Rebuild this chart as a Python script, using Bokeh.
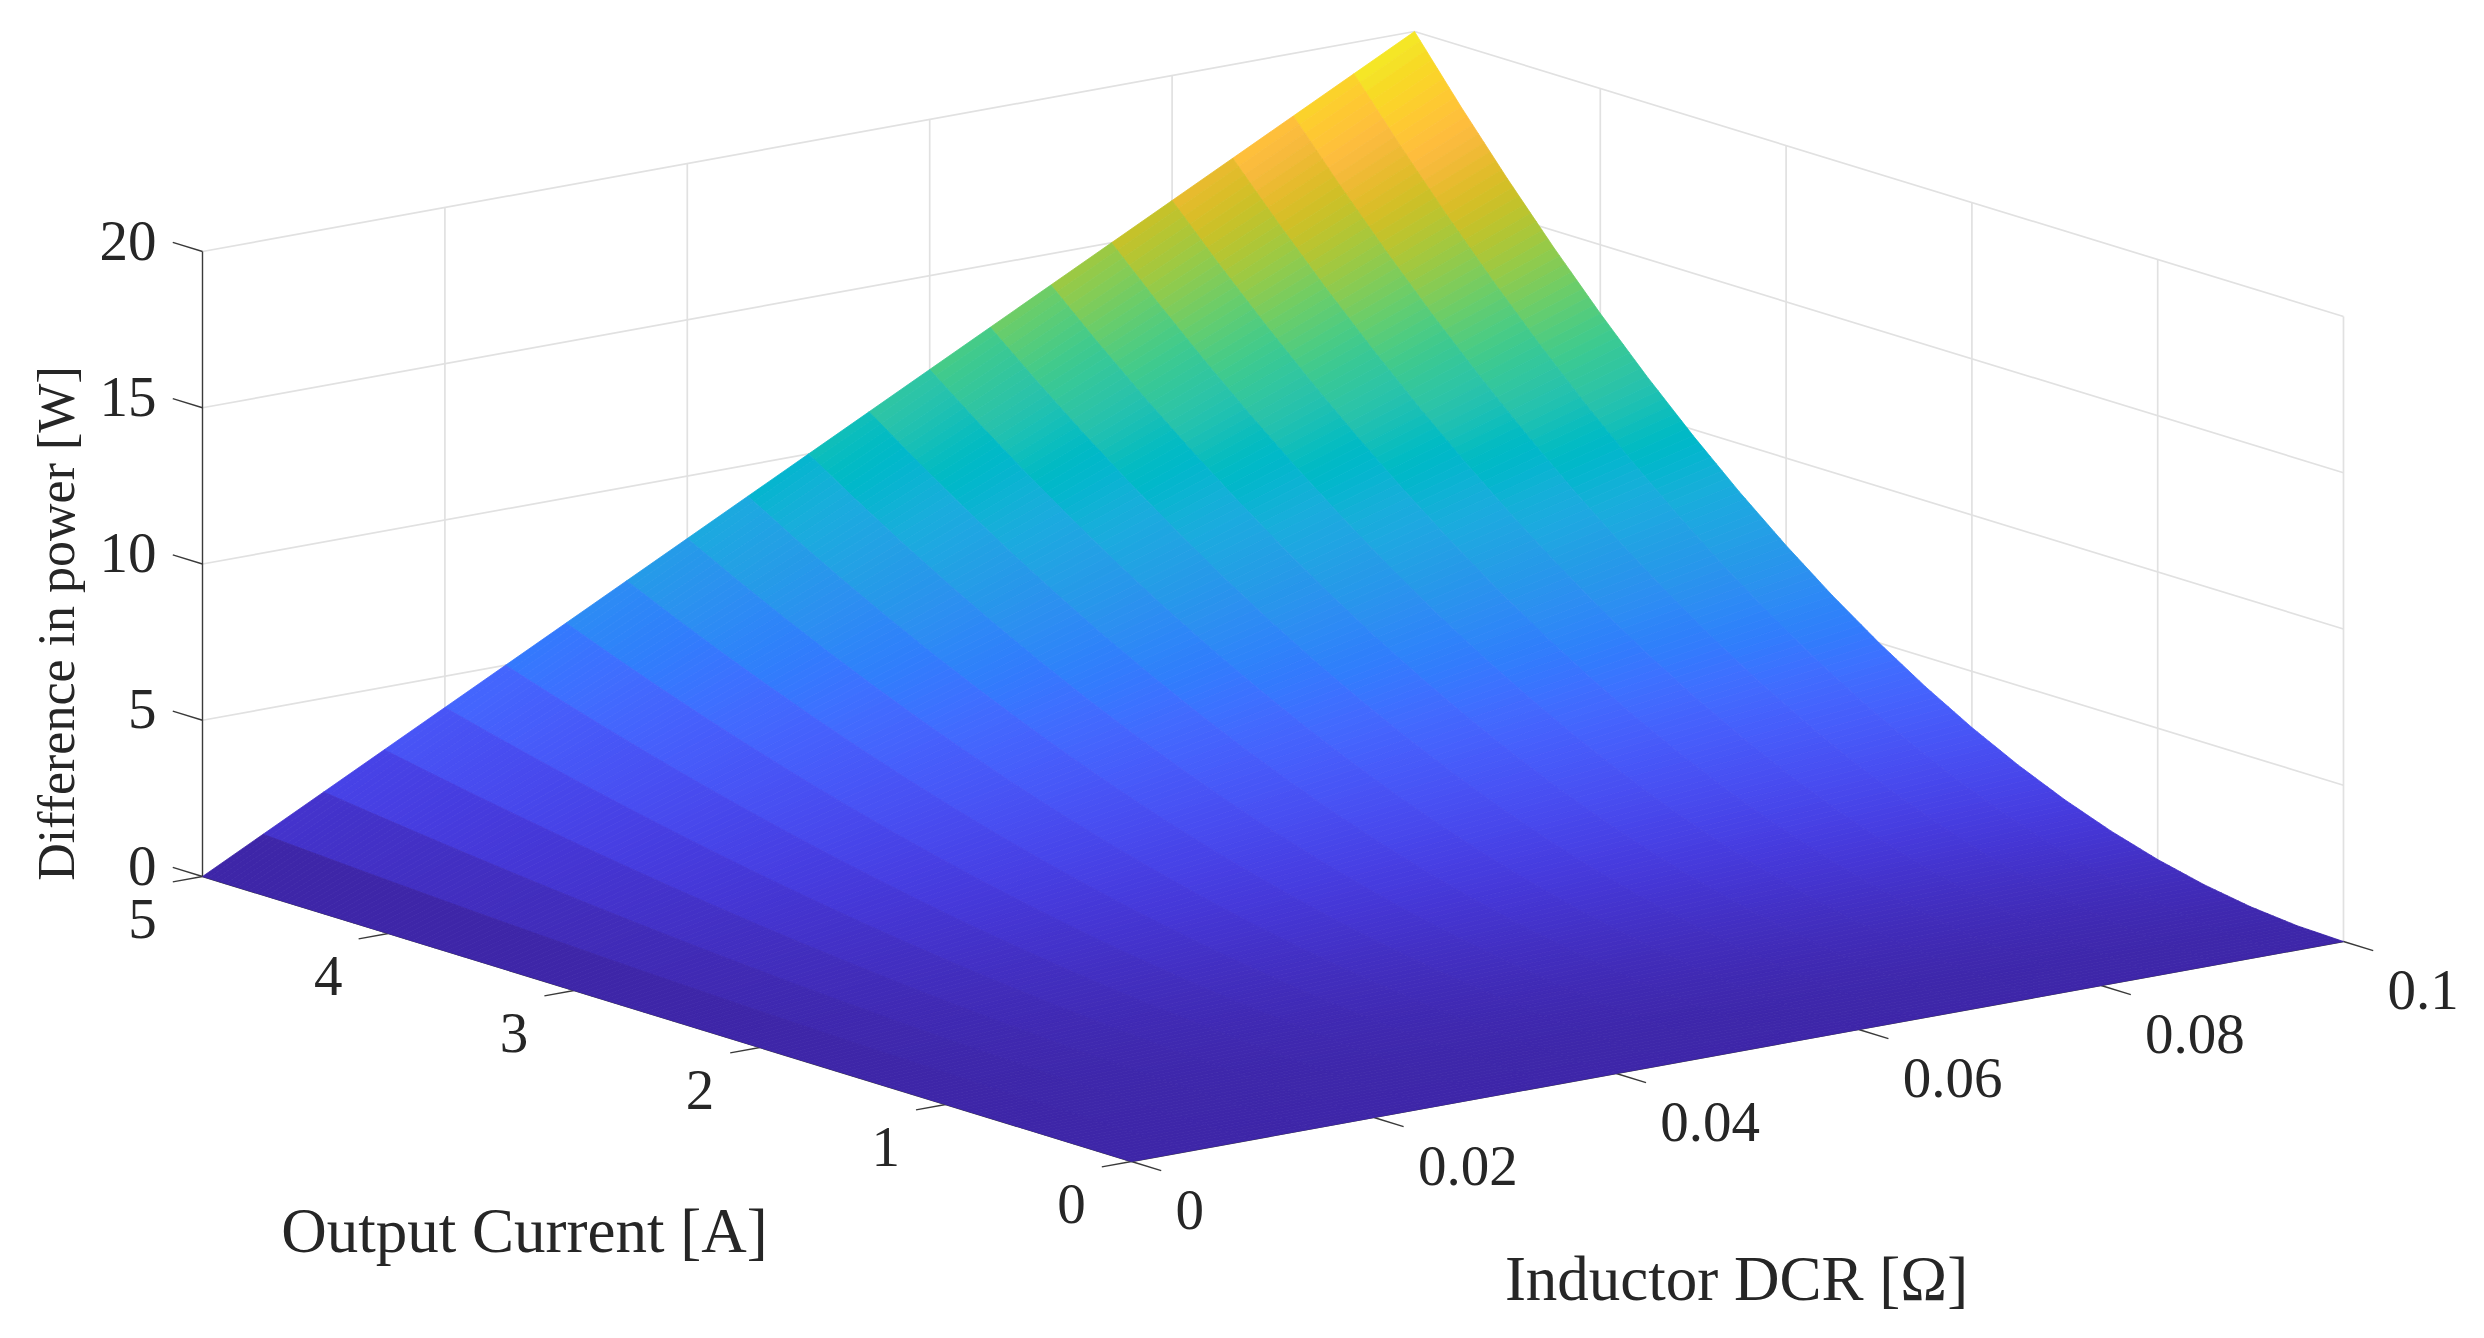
import numpy as np
from bokeh.plotting import figure
from bokeh.models import Range1d, ColumnDataSource
from bokeh.core.properties import value
from bokeh.embed import file_html
from bokeh.resources import INLINE

# ---- data ----
output_current = [0, .25, .5, .75, 1, 1.25, 1.5, 1.75, 2, 2.25, 2.5, 2.75, 3, 3.25, 3.5, 3.75, 4, 4.25, 4.5, 4.75, 5]
inductor_dcr = [0, .005, .01, .015, .02, .025, .03, .035, .04, .045, .05, .055, .06, .065, .07, .075, .08, .085, .09, .095, .1]
# one row per output current, one column per DCR
power_diff = [
    [0]*21,
    [0,.003,.005,.008,.01,.013,.015,.018,.02,.023,.025,.028,.03,.033,.035,.038,.04,.043,.045,.048,.05],
    [0,.01,.02,.03,.04,.05,.06,.07,.08,.09,.1,.11,.12,.13,.14,.15,.16,.17,.18,.19,.2],
    [0,.023,.045,.068,.09,.113,.135,.158,.18,.203,.225,.248,.27,.293,.315,.338,.36,.383,.405,.428,.45],
    [0,.04,.08,.12,.16,.2,.24,.28,.32,.36,.4,.44,.48,.52,.56,.6,.64,.68,.72,.76,.8],
    [0,.063,.125,.188,.25,.313,.375,.438,.5,.563,.625,.688,.75,.813,.875,.938,1,1.063,1.125,1.188,1.25],
    [0,.09,.18,.27,.36,.45,.54,.63,.72,.81,.9,.99,1.08,1.17,1.26,1.35,1.44,1.53,1.62,1.71,1.8],
    [0,.123,.245,.368,.49,.613,.735,.858,.98,1.103,1.225,1.348,1.47,1.593,1.715,1.838,1.96,2.083,2.205,2.328,2.45],
    [0,.16,.32,.48,.64,.8,.96,1.12,1.28,1.44,1.6,1.76,1.92,2.08,2.24,2.4,2.56,2.72,2.88,3.04,3.2],
    [0,.203,.405,.608,.81,1.013,1.215,1.418,1.62,1.823,2.025,2.228,2.43,2.633,2.835,3.038,3.24,3.443,3.645,3.848,4.05],
    [0,.25,.5,.75,1,1.25,1.5,1.75,2,2.25,2.5,2.75,3,3.25,3.5,3.75,4,4.25,4.5,4.75,5],
    [0,.303,.605,.908,1.21,1.513,1.815,2.118,2.42,2.723,3.025,3.328,3.63,3.933,4.235,4.538,4.84,5.143,5.445,5.748,6.05],
    [0,.36,.72,1.08,1.44,1.8,2.16,2.52,2.88,3.24,3.6,3.96,4.32,4.68,5.04,5.4,5.76,6.12,6.48,6.84,7.2],
    [0,.423,.845,1.268,1.69,2.113,2.535,2.958,3.38,3.803,4.225,4.648,5.07,5.493,5.915,6.338,6.76,7.183,7.605,8.028,8.45],
    [0,.49,.98,1.47,1.96,2.45,2.94,3.43,3.92,4.41,4.9,5.39,5.88,6.37,6.86,7.35,7.84,8.33,8.82,9.31,9.8],
    [0,.563,1.125,1.688,2.25,2.813,3.375,3.938,4.5,5.063,5.625,6.188,6.75,7.313,7.875,8.438,9,9.563,10.125,10.688,11.25],
    [0,.64,1.28,1.92,2.56,3.2,3.84,4.48,5.12,5.76,6.4,7.04,7.68,8.32,8.96,9.6,10.24,10.88,11.52,12.16,12.8],
    [0,.723,1.445,2.168,2.89,3.613,4.335,5.058,5.78,6.503,7.225,7.948,8.67,9.393,10.115,10.838,11.56,12.283,13.005,13.728,14.45],
    [0,.81,1.62,2.43,3.24,4.05,4.86,5.67,6.48,7.29,8.1,8.91,9.72,10.53,11.34,12.15,12.96,13.77,14.58,15.39,16.2],
    [0,.903,1.805,2.708,3.61,4.513,5.415,6.318,7.22,8.123,9.025,9.928,10.83,11.733,12.635,13.538,14.44,15.343,16.245,17.148,18.05],
    [0,1,2,3,4,5,6,7,8,9,10,11,12,13,14,15,16,17,18,19,20],
]
current_ticks = [0, 1, 2, 3, 4, 5]
current_labels = ["0", "1", "2", "3", "4", "5"]
dcr_ticks = [0, .02, .04, .06, .08, .1]
dcr_labels = ["0", "0.02", "0.04", "0.06", "0.08", "0.1"]
power_ticks = [0, 5, 10, 15, 20]
power_labels = ["0", "5", "10", "15", "20"]
x_title = "Inductor DCR [Ω]"
y_title = "Output Current [A]"
z_title = "Difference in power [W]"

parula = [
 (.2422,.1504,.6603),(.2504,.1650,.7076),(.2578,.1818,.7511),(.2647,.1978,.7952),
 (.2706,.2147,.8364),(.2751,.2342,.8710),(.2783,.2559,.8991),(.2803,.2782,.9221),
 (.2813,.3006,.9414),(.2810,.3228,.9579),(.2795,.3447,.9717),(.2760,.3667,.9829),
 (.2699,.3892,.9906),(.2602,.4123,.9952),(.2440,.4358,.9988),(.2206,.4603,.9973),
 (.1963,.4847,.9892),(.1834,.5074,.9798),(.1786,.5289,.9682),(.1764,.5499,.9520),
 (.1687,.5703,.9359),(.1540,.5902,.9218),(.1460,.6091,.9079),(.1380,.6276,.8973),
 (.1248,.6459,.8883),(.1113,.6635,.8763),(.0952,.6798,.8598),(.0689,.6948,.8394),
 (.0297,.7082,.8163),(.0036,.7203,.7917),(.0067,.7312,.7660),(.0433,.7411,.7394),
 (.0964,.7500,.7120),(.1408,.7584,.6842),(.1717,.7670,.6554),(.1938,.7758,.6251),
 (.2161,.7843,.5923),(.2470,.7918,.5567),(.2906,.7973,.5188),(.3406,.8008,.4789),
 (.3909,.8029,.4354),(.4456,.8024,.3909),(.5044,.7993,.3480),(.5616,.7942,.3045),
 (.6174,.7876,.2612),(.6720,.7793,.2227),(.7242,.7698,.1910),(.7738,.7598,.1646),
 (.8203,.7498,.1535),(.8634,.7406,.1596),(.9035,.7330,.1774),(.9393,.7288,.2100),
 (.9728,.7298,.2394),(.9956,.7434,.2371),(.9970,.7659,.2199),(.9952,.7861,.1967),
 (.9892,.8136,.1753),(.9786,.8362,.1546),(.9676,.8600,.1450),(.9610,.8890,.1537),
 (.9597,.9135,.1423),(.9628,.9373,.1265),(.9691,.9606,.1064),(.9769,.9839,.0805),
]

# ---- projection of the MATLAB view (orthographic), target pixels ----
OX, OY = 1131.0, 1161.0
def px(r, i, z=0.0):
    return OX + np.asarray(r) * 12120.0 - np.asarray(i) * 185.8
def py(r, i, z=0.0):
    return OY - np.asarray(r) * 2200.0 - np.asarray(i) * 57.0 - np.asarray(z) * 31.25

def cmap(z):
    t = np.clip(z / max(power_ticks), 0, 1) * (len(parula) - 1)
    a = int(np.floor(t)); b = min(a + 1, len(parula) - 1); f = t - a
    c = [(1 - f) * parula[a][n] + f * parula[b][n] for n in range(3)]
    return "#%02x%02x%02x" % tuple(int(round(v * 255)) for v in c)

W, H = 2468, 1322
p = figure(width=W, height=H, output_backend="svg", toolbar_location=None,
           x_range=Range1d(0, W), y_range=Range1d(H, 0),
           x_axis_location=None, y_axis_location=None, min_border=0)
p.grid.visible = False
p.outline_line_color = None
p.background_fill_color = "white"

IMAX, RMAX, ZMAX = max(current_ticks), max(dcr_ticks), max(power_ticks)
GRID = "#e1e1e1"
DARK = "#3a3a3a"
TXT = "#262626"

# back-wall grids
gx, gy = [], []
for z in power_ticks[1:]:
    gx.append([px(0, IMAX), px(RMAX, IMAX), px(RMAX, 0)])
    gy.append([py(0, IMAX, z), py(RMAX, IMAX, z), py(RMAX, 0, z)])
for r in dcr_ticks[1:]:
    gx.append([px(r, IMAX), px(r, IMAX)])
    gy.append([py(r, IMAX, 0), py(r, IMAX, ZMAX)])
for i in current_ticks[:-1]:
    gx.append([px(RMAX, i), px(RMAX, i)])
    gy.append([py(RMAX, i, 0), py(RMAX, i, ZMAX)])
p.multi_line(gx, gy, line_color=GRID, line_width=1.7)

# axes and ticks
TICK_R, TICK_I = 0.00245, 0.16   # tick length expressed in data units
ax = [[px(0, IMAX), px(0, IMAX)], [px(0, 0), px(RMAX, 0)], [px(0, 0), px(0, IMAX)]]
ay = [[py(0, IMAX, 0), py(0, IMAX, ZMAX)], [py(0, 0), py(RMAX, 0)], [py(0, 0), py(0, IMAX)]]
for z in power_ticks:
    ax.append([px(0, IMAX), px(0, IMAX + TICK_I)])
    ay.append([py(0, IMAX, z), py(0, IMAX + TICK_I, z)])
for i in current_ticks:
    ax.append([px(0, i), px(-TICK_R, i)])
    ay.append([py(0, i), py(-TICK_R, i)])
for r in dcr_ticks:
    ax.append([px(r, 0), px(r, -TICK_I)])
    ay.append([py(r, 0), py(r, -TICK_I)])
p.multi_line(ax, ay, line_color=DARK, line_width=1.4)

# surface: 20 strips along current, colour taken from the low-DCR side of each strip
Z = np.array(power_diff, dtype=float)
I = np.array(output_current)
R = np.array(inductor_dcr)
SUB = 8
fine = np.concatenate([np.linspace(I[k], I[k + 1], SUB, endpoint=False) for k in range(len(I) - 1)] + [[I[-1]]])
xs, ys, cs = [], [], []
for j in range(len(R) - 2, -1, -1):
    z0 = np.interp(fine, I, Z[:, j])
    z1 = np.interp(fine, I, Z[:, j + 1])
    for k in range(len(fine) - 2, -1, -1):
        xs.append([px(R[j], fine[k]), px(R[j + 1], fine[k]), px(R[j + 1], fine[k + 1]), px(R[j], fine[k + 1])])
        ys.append([py(R[j], fine[k], z0[k]), py(R[j + 1], fine[k], z1[k]),
                   py(R[j + 1], fine[k + 1], z1[k + 1]), py(R[j], fine[k + 1], z0[k + 1])])
        cs.append(cmap(0.5 * (z0[k] + z0[k + 1])))
src = ColumnDataSource(dict(xs=xs, ys=ys, c=cs))
p.patches("xs", "ys", source=src, fill_color="c", line_color="c", line_width=0.8)

# tick labels
FONT = value("Liberation Serif")
TS = "57px"
p.text([float(px(0, IMAX)) - 46] * len(power_ticks), [float(py(0, IMAX, z)) - 11 for z in power_ticks], text=power_labels,
       text_font=FONT, text_font_size=TS, text_color=TXT, text_align="right", text_baseline="middle")
p.text([float(px(0, i)) - 60 for i in current_ticks], [float(py(0, i)) + 42 for i in current_ticks], text=current_labels,
       text_font=FONT, text_font_size=TS, text_color=TXT, text_align="center", text_baseline="middle")
p.text([float(px(r, 0)) + 44 for r in dcr_ticks], [float(py(r, 0)) + 48 for r in dcr_ticks], text=dcr_labels,
       text_font=FONT, text_font_size=TS, text_color=TXT, text_align="left", text_baseline="middle")

# axis titles
p.text([524], [1230], text=[y_title], text_font=FONT, text_font_size="63px", text_color=TXT,
       text_align="center", text_baseline="middle")
p.text([1736], [1278], text=[x_title], text_font=FONT, text_font_size="63px", text_color=TXT,
       text_align="center", text_baseline="middle")
p.text([56], [623], text=[z_title], text_font=FONT, text_font_size="52px", text_color=TXT,
       text_align="center", text_baseline="middle", angle=np.pi / 2)

open("out.html", "w").write(file_html(p, INLINE))
